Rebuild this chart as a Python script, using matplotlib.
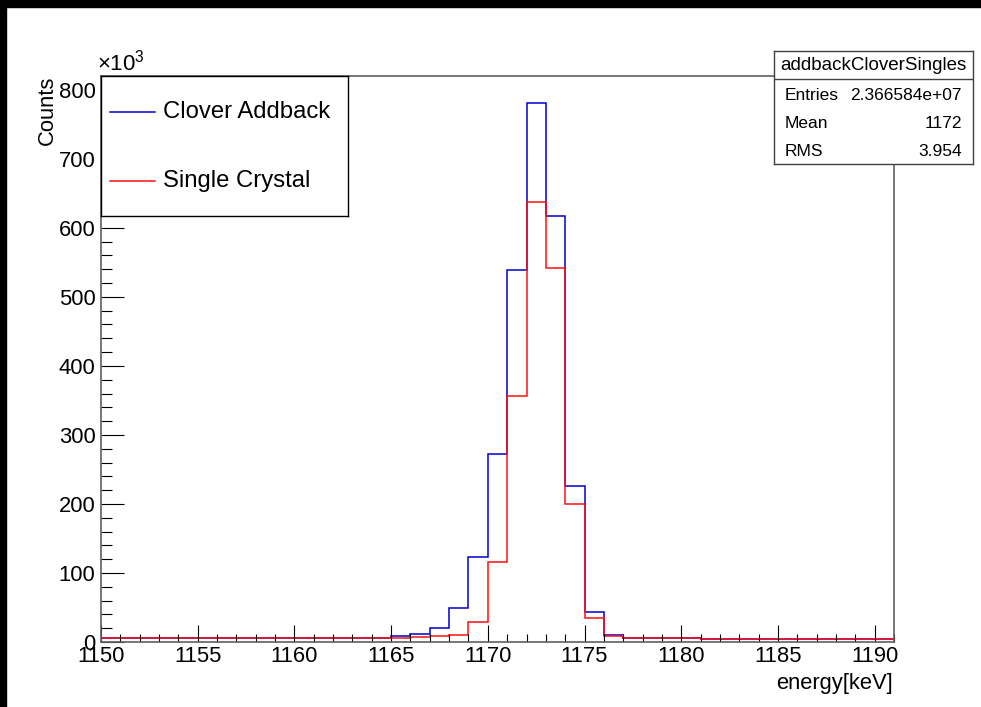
import matplotlib
matplotlib.use('Agg')
import matplotlib.pyplot as plt
from matplotlib.patches import Rectangle
import numpy as np

plt.rcParams['font.family'] = ['Liberation Sans', 'DejaVu Sans']
plt.rcParams['mathtext.fontset'] = 'custom'
plt.rcParams['mathtext.rm'] = 'Liberation Sans'

### Data (counts in units of 10^3, 1 keV bins)
bin_edges = np.arange(1150, 1192, 1)

clover_addback = [6.0] * 15 + [8.7, 11.6, 20.7, 49.7, 122.7, 272, 539, 781, 617, 226,
                               43, 10, 6.5, 5.3, 5.3, 5.3] + [4.0] * 10
single_crystal = [6.2] * 15 + [6.5, 7.0, 8.2, 10.6, 28.5, 116, 357, 637, 542, 200,
                               35, 8.7, 6.2, 5.3, 5.3, 5.3] + [4.0] * 10

stats_title = "addbackCloverSingles"
stats_rows = [("Entries", "2.366584e+07"), ("Mean", "1172"), ("RMS", "3.954")]
legend_labels = ["Clover Addback", "Single Crystal"]

W, H = 981, 707
fig = plt.figure(figsize=(W / 100, H / 100), dpi=100)


def fx(px):
    return px / W


def fy(py):
    return 1 - py / H


# main frame in pixels
left, right, top, bottom = 101, 894, 76, 642
ax = fig.add_axes([fx(left), fy(bottom), fx(right - left), (bottom - top) / H])

ax.stairs(clover_addback, bin_edges, color='#0000d0', linewidth=1.1, baseline=None)
ax.stairs(single_crystal, bin_edges, color='#ff1010', linewidth=1.1, baseline=None)

ax.set_xlim(1150, 1191)
ax.set_ylim(0, 820)
ax.set_xticks(np.arange(1150, 1191, 5))
ax.set_xticks(np.arange(1150, 1192, 1), minor=True)
ax.set_yticks(np.arange(0, 801, 100))
ax.set_yticks(np.arange(0, 821, 20), minor=True)

ax.tick_params(axis='both', which='both', direction='in', top=False, right=False,
               color='black', width=0.8, labelsize=15.8)
ax.tick_params(axis='x', which='major', length=12.5, pad=3)
ax.tick_params(axis='x', which='minor', length=6)
ax.tick_params(axis='y', which='major', length=16.5, pad=4)
ax.tick_params(axis='y', which='minor', length=8)
for sp in ax.spines.values():
    sp.set_color('#606060')
    sp.set_linewidth(1.2)

# axis titles and exponent
fig.text(fx(893), fy(684), "energy[keV]", ha='right', va='center', fontsize=15.8)
fig.text(fx(47), fy(76), "Counts", rotation=90, ha='center', va='top', fontsize=15.8)
fig.text(fx(97), fy(71), r"$\times10^{3}$", ha='left', va='baseline', fontsize=16)

# legend box
lx0, ly0, lx1, ly1 = 101, 76, 348, 216
lax = fig.add_axes([fx(lx0), fy(ly1), fx(lx1 - lx0), (ly1 - ly0) / H])
lax.set_xlim(lx0, lx1)
lax.set_ylim(ly1, ly0)
lax.set_xticks([])
lax.set_yticks([])
for sp in lax.spines.values():
    sp.set_color('black')
    sp.set_linewidth(1.0)
for label, color, yy in zip(legend_labels, ['#0000d0', '#ff1010'], [112, 181]):
    lax.plot([110, 155], [yy, yy], color=color, linewidth=1.1)
    lax.text(163, yy, label, ha='left', va='center', fontsize=17.2)

# stats box
sx0, sy0, sx1, sy1 = 774, 51, 973, 164
sax = fig.add_axes([fx(sx0), fy(sy1), fx(sx1 - sx0), (sy1 - sy0) / H])
sax.set_xlim(sx0, sx1)
sax.set_ylim(sy1, sy0)
sax.set_xticks([])
sax.set_yticks([])
for sp in sax.spines.values():
    sp.set_color('#404040')
    sp.set_linewidth(1.0)
sax.axhline(79, color='#404040', linewidth=1.0)
sax.text((sx0 + sx1) / 2, 65, stats_title, ha='center', va='center', fontsize=13.5)
for (name, val), yy in zip(stats_rows, [95, 123, 151]):
    sax.text(785, yy, name, ha='left', va='center', fontsize=12.5)
    sax.text(962, yy, val, ha='right', va='center', fontsize=12.5)

# black edges of the screenshot
fig.patches.append(Rectangle((0, fy(7)), 1, 7 / H, transform=fig.transFigure,
                             color='black', zorder=10))
fig.patches.append(Rectangle((0, 0), fx(6), 1, transform=fig.transFigure,
                             color='black', zorder=10))

fig.savefig('out.png', dpi=100)
